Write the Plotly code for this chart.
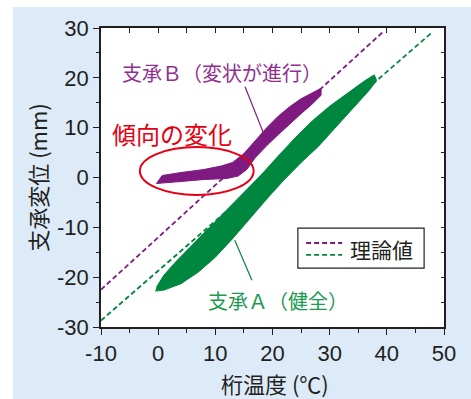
import plotly.graph_objects as go

# ---------------- data ----------------
x_tick_vals = [-10, 0, 10, 20, 30, 40, 50]
x_tick_text = ["-10", "0", "10", "20", "30", "40", "50"]
y_tick_vals = [-30, -20, -10, 0, 10, 20, 30]
y_tick_text = ["-30", "-20", "-10", "0", "10", "20", "30"]
x_minor_vals = [-10, -5, 0, 5, 10, 15, 20, 25, 30, 35, 40, 45, 50]
y_minor_vals = [-30, -25, -20, -15, -10, -5, 0, 5, 10, 15, 20, 25, 30]

# theoretical values (dashed)
theory_B_x = [-10, 39.5]
theory_B_y = [-22.5, 29.4]
theory_A_x = [-10, 48.0]
theory_A_y = [-28.7, 29.2]

# bearing A (sound) - point cloud outline
A_upper_x = [-0.3, 1, 3, 6, 9, 12, 15, 18, 21, 24, 27, 30, 33, 36, 37.8]
A_upper_y = [-22.0, -19.6, -17.0, -13.4, -10.0, -6.5, -3.0, 0.5, 4.3, 8.0, 11.4, 14.3, 16.8, 19.3, 20.6]
A_lower_x = [38.2, 37, 34, 31, 28, 25, 22, 19, 16, 13, 10, 7, 4, 1, -0.5]
A_lower_y = [19.5, 17.6, 13.8, 10.0, 6.2, 3.0, -0.5, -4.3, -8.4, -12.3, -16.0, -19.0, -21.3, -22.6, -22.8]

# bearing B (deteriorating) - point cloud outline
B_upper_x = [-0.3, 0.7, 4, 8, 11, 13, 15, 17, 19, 21, 23, 25, 27, 28.5]
B_upper_y = [-1.2, 0.4, 1.0, 1.6, 2.3, 3.0, 4.8, 7.4, 10.0, 12.3, 14.2, 15.8, 17.1, 17.9]
B_lower_x = [28.5, 27, 25, 23, 21, 19, 17, 15.5, 14, 12, 8, 4, 1, -0.3]
B_lower_y = [16.5, 14.8, 12.8, 10.8, 8.6, 6.4, 4.0, 1.6, 0.3, -0.2, -0.4, -0.8, -1.0, -1.2]

# ---------------- styles ----------------
PURPLE = "#7e1a80"
PURPLE_TXT = "#912f91"
GREEN = "#00873f"
GREEN_TXT = "#1b9a50"
RED = "#e60012"
DARK = "#231f20"
BLUE_BG = "#ddeaf8"
NUM_FONT = "Liberation Sans"
JP_FONT = "Noto Sans CJK JP"

fig = go.Figure()

fig.add_trace(go.Scatter(
    x=A_upper_x + A_lower_x, y=A_upper_y + A_lower_y,
    fill="toself", fillcolor=GREEN, mode="lines",
    line=dict(color=GREEN, width=1), showlegend=False, hoverinfo="skip"))
fig.add_trace(go.Scatter(
    x=B_upper_x + B_lower_x, y=B_upper_y + B_lower_y,
    fill="toself", fillcolor=PURPLE, mode="lines",
    line=dict(color=PURPLE, width=1), showlegend=False, hoverinfo="skip"))

fig.add_trace(go.Scatter(
    x=theory_B_x, y=theory_B_y, mode="lines",
    line=dict(color=PURPLE, width=1.8, dash="5px,3px"), showlegend=False))
fig.add_trace(go.Scatter(
    x=theory_A_x, y=theory_A_y, mode="lines",
    line=dict(color=GREEN, width=1.8, dash="5px,3px"), showlegend=False))

# dummy trace for mirrored axes (inside ticks on top / right)
fig.add_trace(go.Scatter(x=[None], y=[None], xaxis="x2", yaxis="y2",
                         showlegend=False, hoverinfo="skip"))

axis_common = dict(showgrid=False, zeroline=False, showline=True,
                   linecolor=DARK, linewidth=1.5, mirror=True)

fig.update_layout(
    width=471, height=399,
    margin=dict(l=101, r=27, t=28, b=72),
    paper_bgcolor=BLUE_BG, plot_bgcolor="white",
    xaxis=dict(range=[-10, 50], tickmode="array", tickvals=x_tick_vals,
               ticktext=x_tick_text, ticks="outside", ticklen=6,
               tickwidth=1.3, tickcolor=DARK,
               tickfont=dict(family=NUM_FONT, size=22, color=DARK),
               minor=dict(tickmode="array", tickvals=x_minor_vals,
                          ticks="outside", ticklen=4, tickwidth=1.3,
                          tickcolor=DARK),
               **axis_common),
    yaxis=dict(range=[-30, 30], tickmode="array", tickvals=y_tick_vals,
               ticktext=y_tick_text, ticks="outside", ticklen=6,
               tickwidth=1.3, tickcolor=DARK,
               tickfont=dict(family=NUM_FONT, size=22, color=DARK),
               minor=dict(tickmode="array", tickvals=y_minor_vals,
                          ticks="outside", ticklen=3, tickwidth=1.3,
                          tickcolor=DARK),
               **axis_common),
    xaxis2=dict(range=[-10, 50], overlaying="x", side="top", anchor="y",
                tickmode="array", tickvals=x_minor_vals, ticks="inside",
                ticklen=5, tickwidth=1.3, tickcolor=DARK,
                showticklabels=False, showgrid=False, zeroline=False,
                showline=False),
    yaxis2=dict(range=[-30, 30], overlaying="y", side="right", anchor="x",
                tickmode="array", tickvals=y_minor_vals, ticks="inside",
                ticklen=3, tickwidth=1.3, tickcolor=DARK,
                showticklabels=False, showgrid=False, zeroline=False,
                showline=False),
    showlegend=False,
)

shapes = [
    # white strips outside the blue panel
    dict(type="rect", xref="paper", yref="paper", x0=-0.4, x1=1.2,
         y0=1.0702, y1=1.2, fillcolor="white", line=dict(width=0), layer="below"),
    dict(type="rect", xref="paper", yref="paper", x0=-0.4, x1=-0.2566,
         y0=-0.3, y1=1.2, fillcolor="white", line=dict(width=0), layer="below"),
    # red ellipse
    dict(type="circle", xref="x", yref="y", x0=-3.2, x1=16.7, y0=-3.5, y1=6.1,
         line=dict(color=RED, width=2)),
    # pointer lines
    dict(type="line", xref="x", yref="y", x0=15.2, y0=18.2, x1=18.7, y1=8.1,
         line=dict(color=PURPLE, width=1.2)),
    dict(type="line", xref="x", yref="y", x0=13.4, y0=-12.6, x1=16.4, y1=-20.6,
         line=dict(color=GREEN, width=1.2)),
    # legend box
    dict(type="rect", xref="paper", yref="paper", x0=0.574, x1=0.942,
         y0=0.197, y1=0.331, fillcolor="white", line=dict(color=DARK, width=1.2)),
    dict(type="line", xref="paper", yref="paper", x0=0.598, x1=0.703,
         y0=0.281, y1=0.281, line=dict(color=PURPLE, width=1.8, dash="5px,3px")),
    dict(type="line", xref="paper", yref="paper", x0=0.598, x1=0.703,
         y0=0.241, y1=0.241, line=dict(color=GREEN, width=1.8, dash="5px,3px")),
]
fig.update_layout(shapes=shapes)

annotations = [
    dict(text="支承Ｂ（変状が進行）", x=-6.6, y=21.0, xref="x", yref="y",
         xanchor="left", yanchor="middle", showarrow=False,
         font=dict(family=JP_FONT, size=20, color=PURPLE_TXT)),
    dict(text="傾向の変化", x=-8.5, y=8.9, xref="x", yref="y",
         xanchor="left", yanchor="middle", showarrow=False,
         font=dict(family=JP_FONT, size=24, color=RED)),
    dict(text="支承Ａ（健全）", x=8.4, y=-24.6, xref="x", yref="y",
         xanchor="left", yanchor="middle", showarrow=False,
         font=dict(family=JP_FONT, size=20, color=GREEN_TXT)),
    dict(text="理論値", x=0.819, y=0.262, xref="paper", yref="paper",
         xanchor="center", yanchor="middle", showarrow=False,
         font=dict(family=JP_FONT, size=21, color=DARK)),
    dict(text="桁温度 (℃)", x=0.507, y=-0.187, xref="paper", yref="paper",
         xanchor="center", yanchor="middle", showarrow=False,
         font=dict(family=JP_FONT, size=22, color=DARK)),
    dict(text="支承変位 (mm)", x=-0.187, y=0.502, xref="paper", yref="paper",
         xanchor="center", yanchor="middle", showarrow=False, textangle=-90,
         font=dict(family=JP_FONT, size=22, color=DARK)),
]
fig.update_layout(annotations=annotations)

fig.write_html(
    "out.html",
    config={"displayModeBar": False},
    post_script="document.body.style.margin='0';document.body.style.overflow='hidden';",
)
